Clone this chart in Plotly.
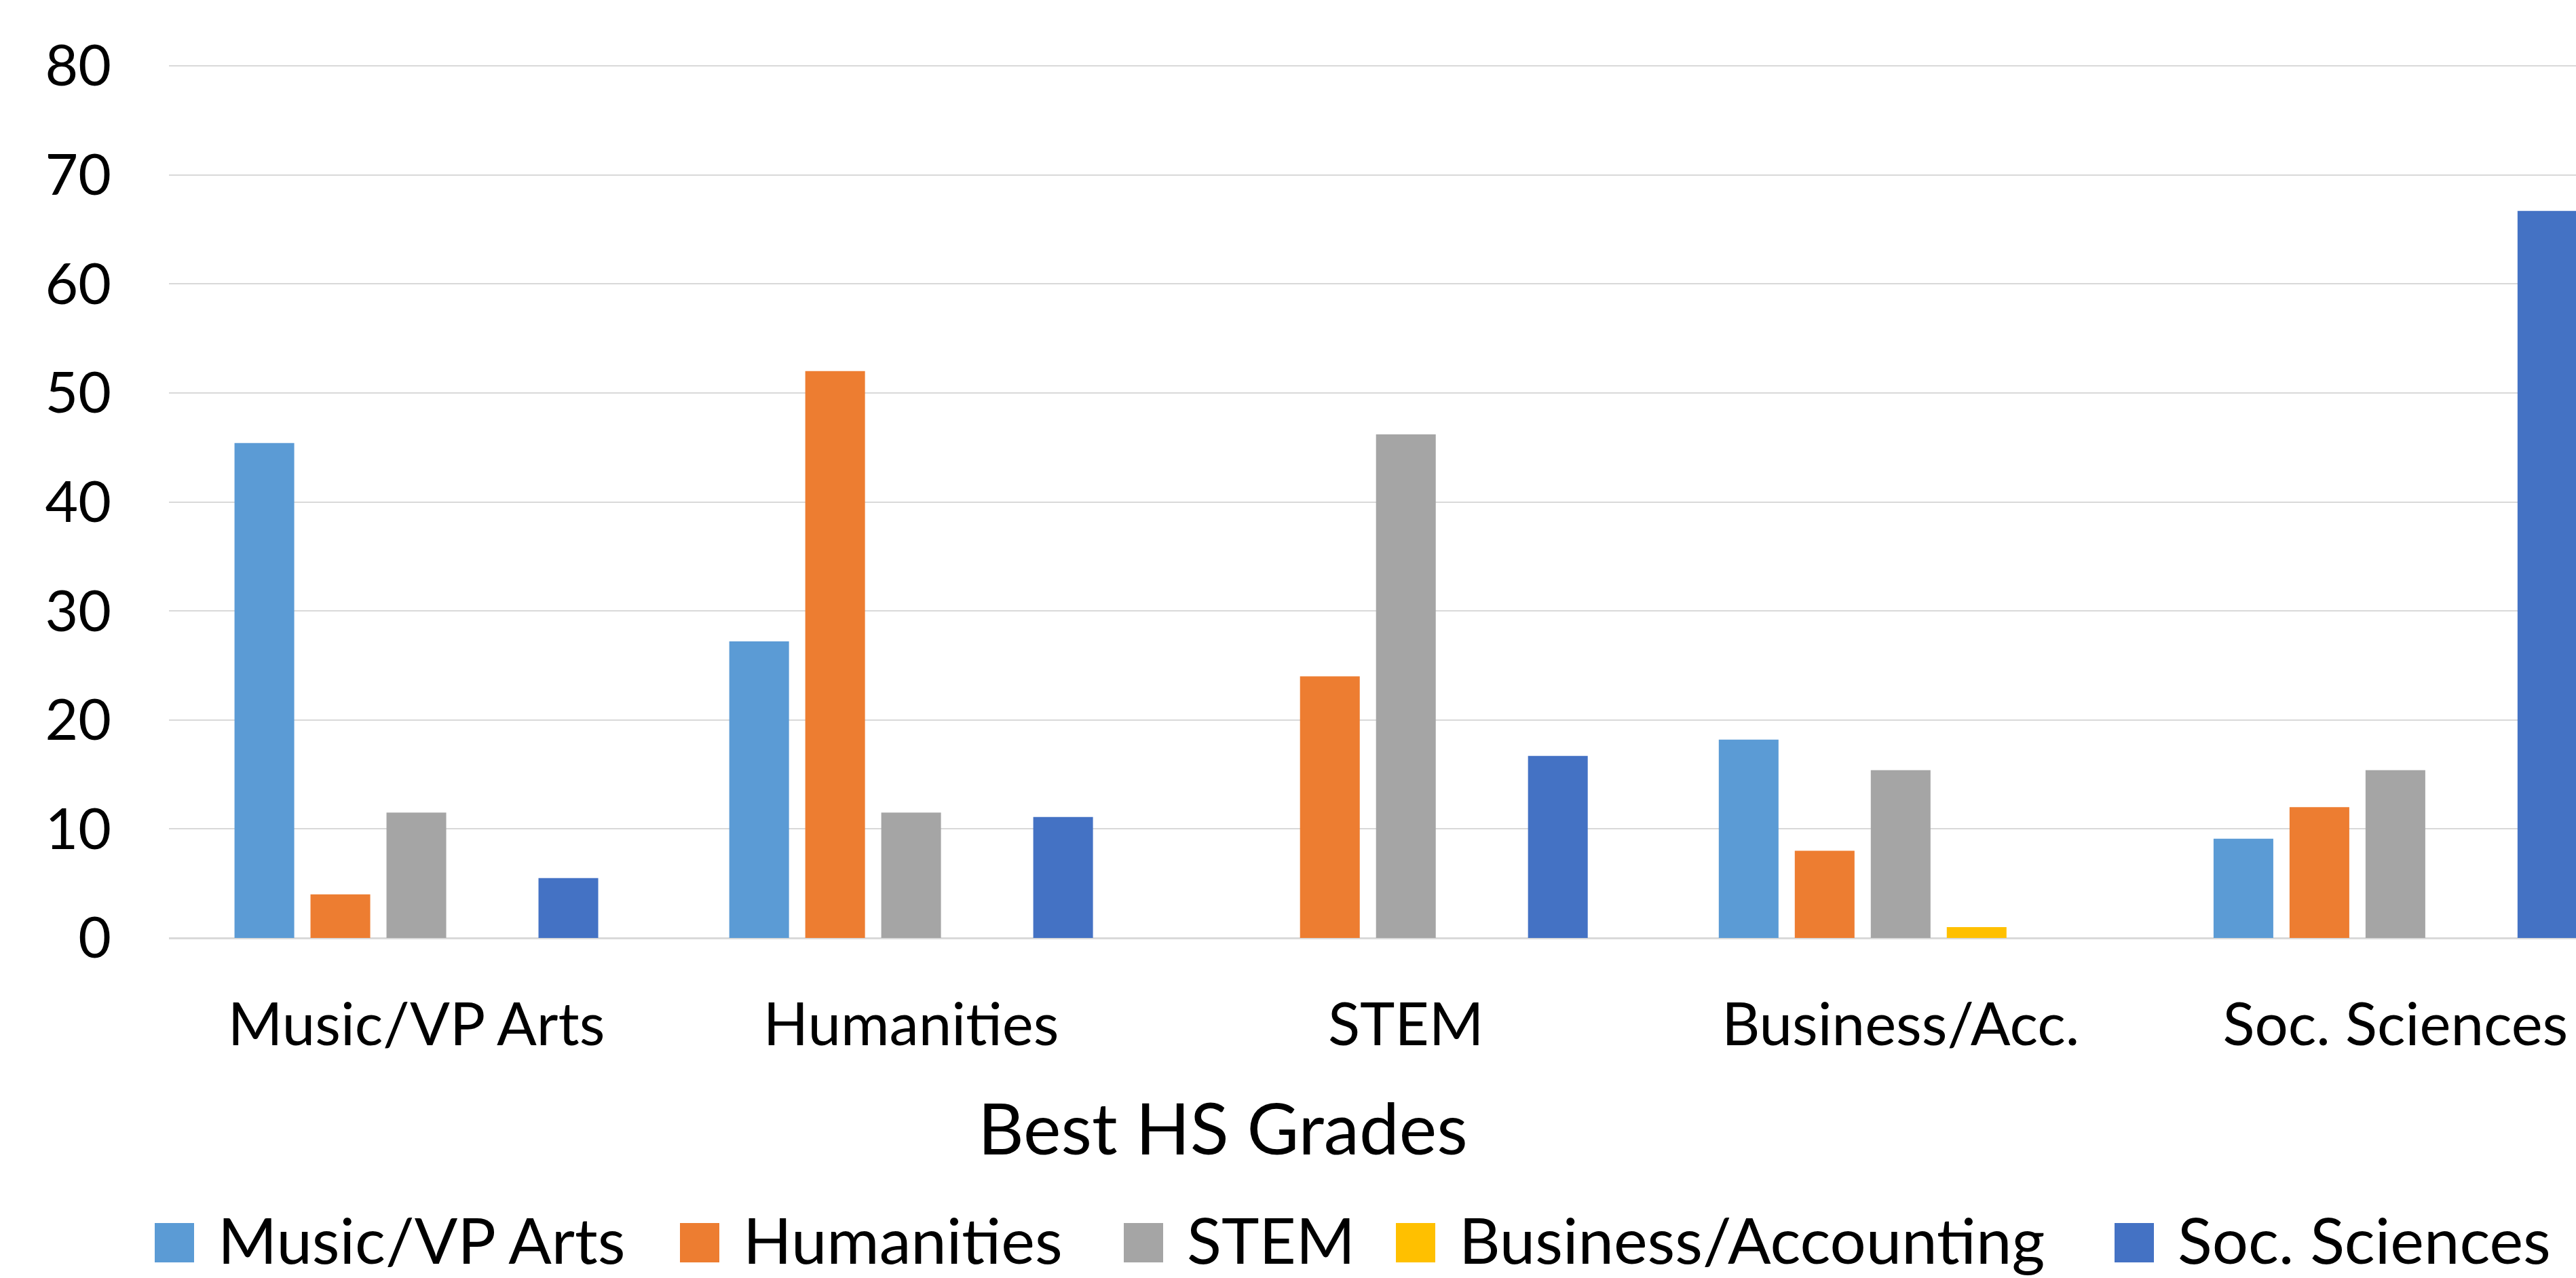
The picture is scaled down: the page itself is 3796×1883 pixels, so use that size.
import plotly.graph_objects as go

# ---------------- data ----------------
categories = ["Music/VP Arts", "Humanities", "STEM", "Business/Acc.", "Soc. Sciences"]
series_names = ["Music/VP Arts", "Humanities", "STEM", "Business/Accounting", "Soc. Sciences"]
music_vp_arts = [45.4, 27.2, 0.0, 18.2, 9.1]
humanities = [4.0, 52.0, 24.0, 8.0, 12.0]
stem = [11.5, 11.5, 46.2, 15.4, 15.4]
business_accounting = [0.0, 0.0, 0.0, 1.0, 0.0]
soc_sciences = [5.5, 11.1, 16.7, 0.0, 66.7]
y_ticks = [0, 10, 20, 30, 40, 50, 60, 70, 80]
x_title = "Best HS Grades"

series_values = [music_vp_arts, humanities, stem, business_accounting, soc_sciences]
colors = ["#5B9BD5", "#ED7D31", "#A5A5A5", "#FFC000", "#4472C4"]

# ---------------- layout constants (pixels) ----------------
W, H = 3796, 1883
L, R, T, B = 249, 0, 95, 501
FONT = "Lato, Calibri, Carlito, 'Open Sans', sans-serif"

plot_w = W - L - R
plot_h = H - T - B


def px2x(px):
    return (px - L) / plot_w


def py2y(py):
    return (H - B - py) / plot_h


fig = go.Figure()
for name, vals, col in zip(series_names, series_values, colors):
    fig.add_trace(go.Bar(
        x=categories, y=vals, name=name,
        marker=dict(color=col, line=dict(width=0)),
        showlegend=False,
    ))

# custom legend (large square swatches like the original)
legend_square_left = [228, 1002, 1656, 2057, 3116]
sq = 58
legend_cy = 1831
shapes = []
annotations = []
for name, col, lx in zip(series_names, colors, legend_square_left):
    shapes.append(dict(
        type="rect", xref="paper", yref="paper",
        x0=px2x(lx), x1=px2x(lx + sq),
        y0=py2y(legend_cy + sq / 2), y1=py2y(legend_cy - sq / 2),
        fillcolor=col, line=dict(width=0), layer="above",
    ))
    annotations.append(dict(
        text=name, xref="paper", yref="paper",
        x=px2x(lx + sq + 34), y=py2y(legend_cy - 5),
        xanchor="left", yanchor="middle", showarrow=False, borderpad=0,
        font=dict(family=FONT, size=94, color="#000000"),
    ))

# x axis title (centered on original chart, not on cropped plot area)
annotations.append(dict(
    text=x_title, xref="paper", yref="paper",
    x=px2x(1802), y=py2y(1660),
    xanchor="center", yanchor="middle", showarrow=False,
    font=dict(family=FONT, size=105, color="#000000"),
))

fig.update_layout(
    width=W, height=H,
    margin=dict(l=L, r=R, t=T, b=B, pad=0),
    paper_bgcolor="white", plot_bgcolor="white",
    barmode="group", bargap=0.232, bargroupgap=0.214,
    font=dict(family=FONT, color="#000000"),
    shapes=shapes, annotations=annotations,
    showlegend=False,
)
fig.update_xaxes(
    type="category", range=[-0.5, 4.365],
    showgrid=False, showline=False, zeroline=False, ticks="",
    tickfont=dict(family=FONT, size=87, color="#000000"),
    ticklabelstandoff=70,
)
fig.update_yaxes(
    range=[0, 80.125], tickvals=y_ticks,
    showgrid=True, gridcolor="#D9D9D9", gridwidth=2,
    zeroline=True, zerolinecolor="#D9D9D9", zerolinewidth=3,
    showline=False, ticks="",
    tickfont=dict(family=FONT, size=84, color="#000000"),
    ticklabelstandoff=84,
)

fig.write_html(
    "out.html",
    config={"displayModeBar": False},
    post_script="document.body.style.margin='0';document.body.style.overflow='hidden';",
)
